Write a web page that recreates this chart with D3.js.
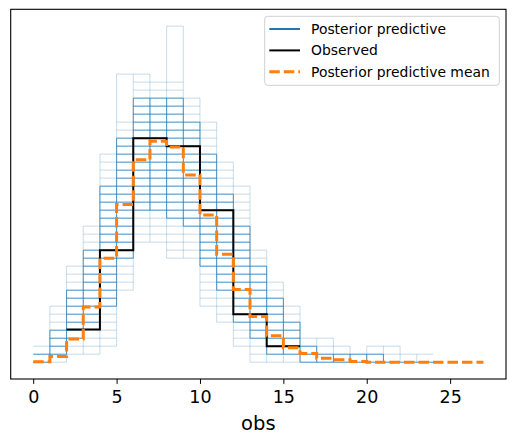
<!DOCTYPE html>
<html>
<head>
<meta charset="utf-8">
<script src="https://cdn.jsdelivr.net/npm/d3@7"></script>
<style>
  body { margin: 0; background: #fff; }
  svg { display: block; font-family: "DejaVu Sans", sans-serif; }
</style>
</head>
<body>
<svg id="svg_ppcChart" width="515" height="443"></svg>
<script>
// Posterior predictive check: discrete obs, step histograms (density)

// observed histogram (bins of width 2)
const obsEdges = [2, 4, 6, 8, 10, 12, 14, 16];
const obsDensity = [0.0205, 0.070, 0.140, 0.135, 0.095, 0.030, 0.010];

// posterior predictive mean (bins of width 1)
const meanEdges = [0, 1, 2, 3, 4, 5, 6, 7, 8, 9, 10, 11, 12, 13, 14, 15, 16, 17, 18, 19, 20, 21, 22, 23, 24, 25, 26, 27];
const meanDensity = [0.0003, 0.0035, 0.0145, 0.0345, 0.065, 0.0985, 0.1265, 0.138, 0.1345, 0.117, 0.092, 0.0675, 0.0455,
                     0.0285, 0.0165, 0.009, 0.0055, 0.0025, 0.0015, 0.0005, 0, 0, 0, 0, 0, 0, 0];

// posterior predictive draws, summarised per unit bin: which density levels the draws hit
const ppBins = [0, 1, 2, 3, 4, 5, 6, 7, 8, 9, 10, 11, 12, 13, 14, 15, 16, 17, 18, 19, 20, 21, 22, 23];
const ppLow      = [0, 0, 0.005, 0.005, 0.010, 0.045, 0.075, 0.075, 0.065, 0.065, 0.035, 0.025, 0.010, 0, 0, 0, 0, 0, 0, 0, 0, 0, 0, 0];
const ppCoreLow  = [0, 0.005, 0.015, 0.025, 0.035, 0.065, 0.095, 0.095, 0.090, 0.085, 0.060, 0.045, 0.025, 0.015, 0.005, 0.005, 0, 0, 0, 0, 0, 0, 0, 0];
const ppCoreHigh = [0.005, 0.020, 0.045, 0.070, 0.110, 0.140, 0.165, 0.165, 0.165, 0.150, 0.130, 0.105, 0.085, 0.060, 0.040, 0.025, 0.010, 0.005, 0.005, 0.005, 0.005, 0, 0, 0];
const ppHigh     = [0.010, 0.035, 0.060, 0.085, 0.130, 0.150, 0.180, 0.175, 0.175, 0.165, 0.150, 0.125, 0.110, 0.070, 0.050, 0.035, 0.015, 0.015, 0.010, 0.005, 0.010, 0.010, 0.005, 0.005];
// single draws sitting well above the rest
const ppOutlierBins = [5, 8];
const ppOutlierLevels = [0.180, 0.210];
const levelStep = 0.005;

const xTicks = [0, 5, 10, 15, 20, 25];

class PpcChart {

    constructor() {
        this.svg = d3.select('#svg_ppcChart');
        this.svgWidth = parseInt(this.svg.attr('width'));
        this.svgHeight = parseInt(this.svg.attr('height'));

        // axes box
        this.left = 10.7;
        this.right = 506;
        this.top = 9.3;
        this.bottom = 379;

        // matplotlib style 5% margins
        let xMin = d3.min(meanEdges), xMax = d3.max(meanEdges);
        let xPad = (xMax - xMin) * 0.05;
        this.xScale = d3.scaleLinear()
                        .domain([xMin - xPad, xMax + xPad])
                        .range([this.left, this.right]);

        let yMax = d3.max(ppOutlierLevels.concat(ppHigh));
        let yPad = yMax * 0.05;
        this.yScale = d3.scaleLinear()
                        .domain([-yPad, yMax + yPad])
                        .range([this.bottom, this.top]);
    }

    draw() {
        this.drawSamples();
        this.drawSteps(obsEdges, obsDensity, '#000000', 2, null);
        this.drawSteps(meanEdges, meanDensity, '#ff7f0e', 3, '10.5,4');
        this.drawAxes();
        this.drawLegend();
    }

    drawSamples() {
        let g = this.svg.append('g');
        let x = this.xScale, y = this.yScale;
        let blue = '#1f77b4';

        // top of each bin including outliers
        let top = ppBins.map((b, i) => {
            let j = ppOutlierBins.indexOf(b);
            return j >= 0 ? Math.max(ppHigh[i], ppOutlierLevels[j]) : ppHigh[i];
        });

        // vertical edges between neighbouring bins
        for (let i = 1; i < ppBins.length; i++) {
            let bx = x(ppBins[i]);
            let lo = Math.min(ppLow[i - 1], ppLow[i]);
            let hi = Math.max(top[i - 1], top[i]);
            g.append('line')
             .attr('x1', bx).attr('x2', bx)
             .attr('y1', y(lo)).attr('y2', y(hi))
             .attr('stroke', blue).attr('stroke-opacity', 0.25).attr('stroke-width', 1);
            let clo = Math.min(ppCoreLow[i - 1], ppCoreLow[i]);
            let chi = Math.max(ppCoreHigh[i - 1], ppCoreHigh[i]);
            if (chi > clo) {
                g.append('line')
                 .attr('x1', bx).attr('x2', bx)
                 .attr('y1', y(clo)).attr('y2', y(chi))
                 .attr('stroke', blue).attr('stroke-opacity', 0.75).attr('stroke-width', 1);
            }
        }

        // horizontal levels in each bin
        ppBins.forEach((b, i) => {
            let nLo = Math.round(ppLow[i] / levelStep);
            let nHi = Math.round(ppHigh[i] / levelStep);
            let cLo = Math.round(ppCoreLow[i] / levelStep);
            let cHi = Math.round(ppCoreHigh[i] / levelStep);
            for (let k = nLo; k <= nHi; k++) {
                let core = k >= cLo && k <= cHi;
                g.append('line')
                 .attr('x1', x(b)).attr('x2', x(b + 1))
                 .attr('y1', y(k * levelStep)).attr('y2', y(k * levelStep))
                 .attr('stroke', blue)
                 .attr('stroke-opacity', core ? 0.85 : 0.25)
                 .attr('stroke-width', 1);
            }
        });

        ppOutlierBins.forEach((b, j) => {
            g.append('line')
             .attr('x1', x(b)).attr('x2', x(b + 1))
             .attr('y1', y(ppOutlierLevels[j])).attr('y2', y(ppOutlierLevels[j]))
             .attr('stroke', blue).attr('stroke-opacity', 0.25).attr('stroke-width', 1);
        });
    }

    drawSteps(edges, values, color, width, dash) {
        let pts = values.map((v, i) => [edges[i], v]);
        pts.push([edges[edges.length - 1], values[values.length - 1]]);

        let line = d3.line()
                     .x(d => this.xScale(d[0]))
                     .y(d => this.yScale(d[1]))
                     .curve(d3.curveStepAfter);

        this.svg.append('path')
            .datum(pts)
            .attr('d', line)
            .attr('fill', 'none')
            .attr('stroke', color)
            .attr('stroke-width', width)
            .attr('stroke-dasharray', dash);
    }

    drawAxes() {
        let svg = this.svg;

        // frame
        svg.append('rect')
           .attr('x', this.left).attr('y', this.top)
           .attr('width', this.right - this.left)
           .attr('height', this.bottom - this.top)
           .attr('fill', 'none')
           .attr('stroke', '#000')
           .attr('stroke-width', 1.1);

        let xAxis = d3.axisBottom(this.xScale)
                      .tickValues(xTicks)
                      .tickSize(4.9)
                      .tickPadding(7)
                      .tickFormat(d => `${d}`);

        let gx = svg.append('g')
                    .attr('transform', `translate(0, ${this.bottom})`)
                    .call(xAxis);
        gx.select('.domain').remove();
        gx.selectAll('line').attr('stroke', '#000').attr('stroke-width', 1);
        gx.selectAll('text')
          .attr('fill', '#000')
          .style('font-family', '"DejaVu Sans", sans-serif')
          .style('font-size', '17.5px');

        svg.append('text')
           .attr('x', (this.left + this.right) / 2)
           .attr('y', 430)
           .attr('text-anchor', 'middle')
           .style('font-size', '19.5px')
           .text('obs');
    }

    drawLegend() {
        let items = [
            { label: 'Posterior predictive', color: '#1f77b4', width: 2, dash: null },
            { label: 'Observed', color: '#000000', width: 2, dash: null },
            { label: 'Posterior predictive mean', color: '#ff7f0e', width: 3, dash: '10.5,4' }
        ];

        let g = this.svg.append('g').attr('transform', 'translate(264.7, 16.3)');

        g.append('rect')
         .attr('width', 234.6).attr('height', 69)
         .attr('rx', 3).attr('ry', 3)
         .attr('fill', '#fff').attr('fill-opacity', 0.8)
         .attr('stroke', '#d0d0d0').attr('stroke-width', 1);

        items.forEach((d, i) => {
            let yy = 12.7 + i * 21.4;
            g.append('line')
             .attr('x1', 4.6).attr('x2', 35.3)
             .attr('y1', yy).attr('y2', yy)
             .attr('stroke', d.color)
             .attr('stroke-width', d.width)
             .attr('stroke-dasharray', d.dash);
            g.append('text')
             .attr('x', 46.3).attr('y', yy + 5)
             .style('font-size', '13.9px')
             .attr('fill', '#000')
             .text(d.label);
        });
    }
}

let chart = new PpcChart();
chart.draw();
</script>
</body>
</html>
